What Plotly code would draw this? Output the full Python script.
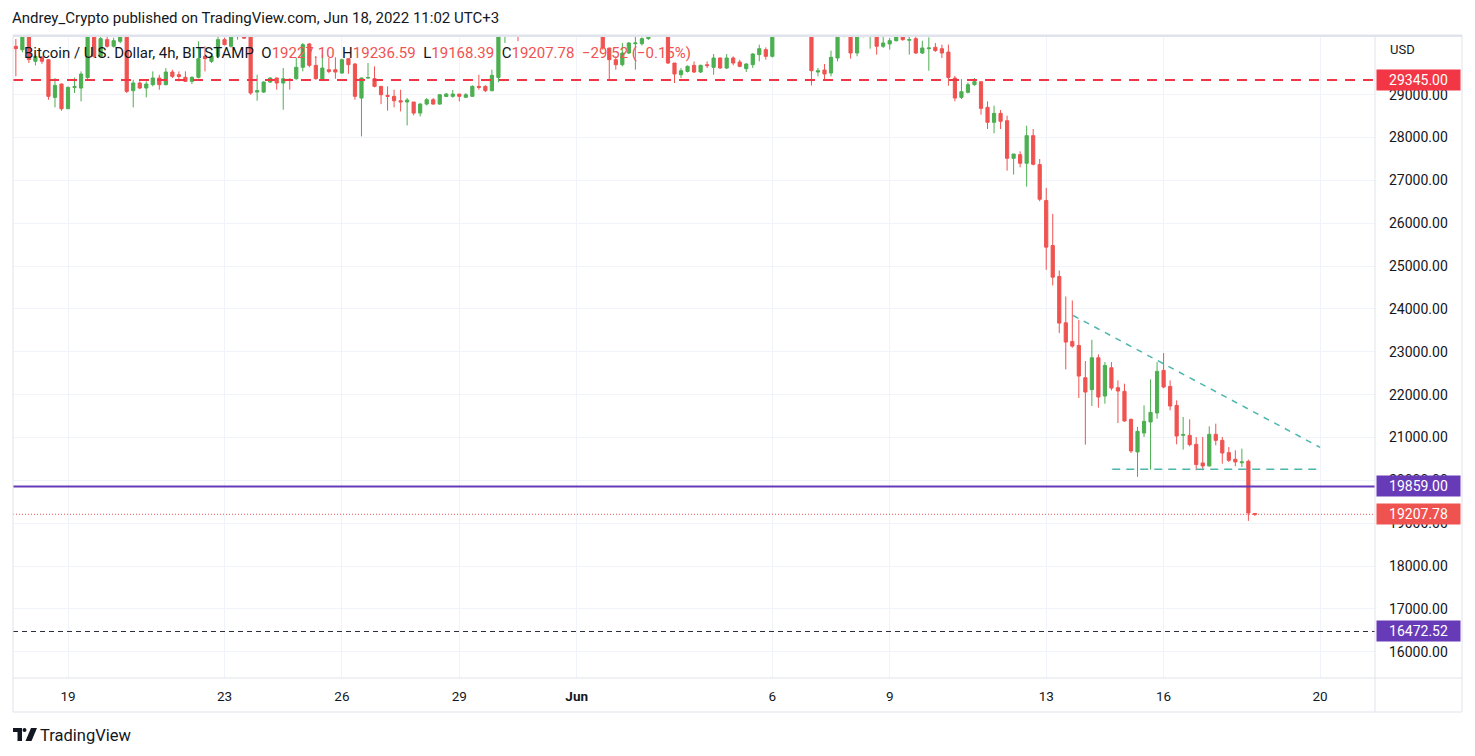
import plotly.graph_objects as go
import pandas as pd

# ---------------- DATA (BTC/USD 4h, Bitstamp) ----------------
start_time = "2022-05-17 16:00"
opens = [
    30130, 30050, 30550, 29780, 29880, 29818, 28938, 29250,
    28673, 29170, 29156, 29400, 30450, 29896, 30286, 30130, 30246, 30600,
    29094, 29273, 29156, 29234, 29390, 29234, 29530, 29467, 29406, 29312,
    29406, 29896, 29779, 29896, 30286, 30130, 30420, 30500, 30380, 29062,
    29062, 29296, 29390, 29273, 29350, 29374, 29640, 30185, 29686, 29350,
    29584, 29584, 29506, 29842, 29717, 28922, 29390, 29374, 29195, 28985,
    28962, 28860, 28830, 28830, 28572, 28782, 28884, 28782, 28960, 28962,
    29016, 28940, 28962, 29195, 29195, 29094, 29400, 30360, 30420, 30850,
    30650, 31300, 31600, 31750, 31450, 31600, 31800, 31700, 31800, 31600,
    31500, 31200, 30800, 30091, 29818, 29701, 29974, 30190, 30190, 30309,
    30600, 30700, 30500, 29740, 29467, 29545, 29686, 29530, 29700, 29639,
    29857, 29623, 29857, 29763, 29608, 29701, 29935, 30052, 29896, 30500,
    30800, 31200, 31400, 31500, 31200, 29530, 29577, 29506, 29857, 30600,
    30700, 29974, 30600, 30380, 30500, 30130, 30185, 30262, 30550, 30270,
    30309, 29974, 30075, 30106, 30075, 29996, 29389, 28938, 29055, 29234,
    29304, 28705, 28356, 28565, 28394, 27516, 27602, 27400, 28045, 27369,
    26530, 25480, 24758, 23677, 23242, 23149, 22395, 22116, 22861, 21968,
    22628, 22162, 22077, 21424, 20663, 21105, 21362, 21572, 22566, 22193,
    21750, 21050, 21050, 20841, 20406, 20336, 21074, 20934, 20647, 20492,
    20410, 20445, 19227.10,
]
highs = [
    30300, 30700, 30650, 29935, 29895, 29830, 29390, 29260,
    29195, 29400, 29545, 30600, 30600, 30420, 30420, 30330, 30700, 30700,
    29350, 29312, 29312, 29545, 29467, 29623, 29584, 29545, 29545, 29430,
    30246, 30130, 29935, 30400, 30330, 30700, 30600, 30650, 30450, 29467,
    29312, 29406, 29400, 29623, 29390, 29857, 30208, 30208, 29896, 29935,
    29857, 29873, 29842, 29842, 29740, 29400, 29740, 29662, 29195, 29195,
    29117, 29117, 28922, 28830, 28806, 28922, 28922, 29016, 29040, 29110,
    29016, 29040, 29220, 29467, 29220, 29584, 30500, 30600, 30950, 30900,
    31400, 31700, 31900, 31800, 31700, 32000, 32200, 31900, 31950, 31800,
    31650, 31300, 30900, 30091, 29896, 30208, 30230, 30363, 30340, 30700,
    30800, 30750, 30600, 29740, 29623, 29686, 29779, 29700, 29779, 29950,
    29870, 29950, 29896, 29818, 29740, 29974, 30169, 30106, 30600, 30900,
    31300, 31600, 31700, 31550, 31300, 29623, 29717, 30030, 30700, 30900,
    30800, 30700, 30700, 30700, 30600, 30400, 30324, 30650, 30600, 30390,
    30450, 30260, 30340, 30208, 30169, 30169, 29443, 29366, 29288, 29389,
    29304, 28845, 28744, 28643, 28511, 27617, 27680, 28278, 28200, 27500,
    26825, 26219, 24898, 24291, 24198, 23747, 22784, 23281, 22939, 22760,
    22760, 22333, 22256, 21440, 21245, 21750, 22356, 22760, 22970, 22333,
    21867, 21478, 21424, 21012, 21012, 21261, 21323, 21012, 20779, 20702,
    20740, 20484, 19236.59,
]
lows = [
    29430, 29990, 29740, 29685, 29720, 28883, 28705, 28627,
    28670, 29040, 28844, 29350, 29857, 29870, 30100, 30100, 30200, 29040,
    28705, 29130, 28938, 29195, 29117, 29220, 29390, 29312, 29296, 29250,
    29380, 29545, 29740, 29870, 30150, 30100, 30286, 30300, 29000, 28860,
    29040, 29273, 29117, 28650, 29117, 29350, 29545, 29640, 29350, 29350,
    29500, 29374, 29490, 29490, 28883, 28027, 29370, 29172, 28780, 28627,
    28705, 28611, 28283, 28518, 28494, 28750, 28767, 28767, 28950, 28930,
    28844, 28922, 28960, 29117, 29062, 29080, 29290, 30208, 30400, 30250,
    30600, 31200, 31400, 31300, 31300, 31500, 31600, 31500, 31500, 31300,
    31100, 30700, 30050, 29350, 29584, 29662, 29950, 29584, 30150, 30280,
    30380, 30380, 29717, 29273, 29390, 29520, 29506, 29506, 29623, 29467,
    29608, 29600, 29686, 29640, 29530, 29623, 29779, 29818, 29870, 30450,
    30700, 31100, 31250, 31100, 29218, 29430, 29350, 29428, 29779, 30340,
    29842, 29896, 30340, 30075, 29935, 30091, 30052, 30240, 30260, 29935,
    29950, 29950, 29560, 30000, 29857, 29210, 28845, 28900, 29032, 29210,
    28534, 28200, 28099, 28200, 27229, 27136, 27306, 26856, 27350, 26514,
    24913, 24548, 23437, 22590, 23095, 21921, 20833, 21735, 21696, 21789,
    22100, 21339, 21370, 20639, 20080, 21012, 20251, 21440, 22150, 21634,
    20841, 20717, 20795, 20235, 20235, 20328, 20818, 20390, 20429, 20328,
    20313, 19054, 19168.39,
]
closes = [
    30075, 30550, 29820, 29895, 29780, 28962, 29218, 28673,
    29172, 29190, 29483, 30363, 29896, 30309, 30130, 30262, 30600, 29078,
    29273, 29156, 29250, 29390, 29234, 29530, 29428, 29428, 29312, 29406,
    29842, 29842, 29896, 30286, 30169, 30550, 30380, 30320, 29040, 29094,
    29296, 29390, 29273, 29374, 29340, 29640, 30169, 29686, 29374, 29623,
    29545, 29530, 29818, 29701, 28962, 29390, 29400, 29195, 29000, 28962,
    28860, 28830, 28876, 28572, 28782, 28884, 28782, 29000, 29016, 29016,
    28962, 29000, 29195, 29172, 29094, 29452, 30363, 30420, 30850, 30650,
    31300, 31600, 31750, 31450, 31600, 31800, 31700, 31800, 31600, 31500,
    31200, 30800, 30091, 29818, 29701, 29974, 30208, 30208, 30309, 30600,
    30700, 30500, 29740, 29483, 29561, 29662, 29530, 29686, 29680, 29857,
    29623, 29857, 29740, 29662, 29717, 29950, 30075, 29896, 30500, 30800,
    31200, 31400, 31500, 31200, 29561, 29560, 29483, 29873, 30600, 30700,
    29974, 30600, 30380, 30500, 30130, 30208, 30262, 30550, 30285, 30290,
    29974, 30091, 30091, 30030, 29974, 29404, 28923, 29070, 29234, 29304,
    28682, 28356, 28565, 28379, 27516, 27617, 27400, 28045, 27377, 26561,
    25442, 24742, 23670, 23227, 23133, 22434, 22061, 22861, 21945, 22683,
    22154, 22085, 21385, 20686, 21144, 21377, 21587, 22543, 22178, 21735,
    21035, 21070, 20833, 20367, 20336, 21074, 20934, 20639, 20468, 20430,
    20430, 19237.30, 19207.78,
]

# horizontal levels drawn on the chart
resistance_level = 29345.00
support_level = 19859.00
target_level = 16472.52
last_price = 19207.78

# drawn trend line (descending triangle)
trend_times = ["2022-06-13 16:30", "2022-06-20 00:00"]
trend_prices = [23848, 20770]
base_times = ["2022-06-14 16:30", "2022-06-19 22:20"]
base_prices = [20259, 20259]

# axis ticks
x_tick_dates = ["2022-05-19", "2022-05-23", "2022-05-26", "2022-05-29", "2022-06-01",
                "2022-06-06", "2022-06-09", "2022-06-13", "2022-06-16", "2022-06-20"]
x_tick_text = ["19", "23", "26", "29", "<b>Jun</b>", "6", "9", "13", "16", "20"]
y_tick_vals = list(range(16000, 30000, 1000))
y_tick_text = [f"{v:.2f}" for v in y_tick_vals]

legend_symbol = "Bitcoin / U.S. Dollar, 4h, BITSTAMP"
legend_ohlc = [("O", "19227.10"), ("H", "19236.59"), ("L", "19168.39"), ("C", "19207.78")]
legend_change = "\u221229.52 (\u22120.15%)"
title_text = "Andrey_Crypto published on TradingView.com, Jun 18, 2022 11:02 UTC+3"

# ---------------- STYLE ----------------
UP = "#4CAF50"
DOWN = "#EF5350"
GRID = "#F0F3FA"
TXT = "#131722"
FONT = "Roboto, 'Open Sans', sans-serif"
NARROW = "'Liberation Sans Narrow', Roboto, sans-serif"
OFF = 8                      # page body margin of the html page
W, H = 1475 - OFF, 756 - OFF
ML, MR, MT, MB = 13 - OFF, 100, 35 - OFF, 78
PW = W - ML - MR
PH = H - MT - MB


def px(xp):
    # page pixel x -> paper coordinate
    return (xp - OFF - ML) / PW


def py(yp):
    # page pixel y -> paper coordinate
    return (H - MB - (yp - OFF)) / PH


times = pd.date_range(start_time, periods=len(opens), freq="4h")

fig = go.Figure()
fig.add_trace(go.Candlestick(
    x=times, open=opens, high=highs, low=lows, close=closes,
    increasing=dict(line=dict(color=UP, width=1), fillcolor=UP),
    decreasing=dict(line=dict(color=DOWN, width=1), fillcolor=DOWN),
    whiskerwidth=0, showlegend=False, hoverinfo="skip",
))

# trend lines
fig.add_trace(go.Scatter(x=trend_times, y=trend_prices, mode="lines",
                         line=dict(color="#4DB6AC", width=1.5, dash="6px,6px"),
                         showlegend=False, hoverinfo="skip"))
fig.add_trace(go.Scatter(x=base_times, y=base_prices, mode="lines",
                         line=dict(color="#4DB6AC", width=1.5, dash="8px,6px"),
                         showlegend=False, hoverinfo="skip"))

shapes = []
# horizontal levels
shapes.append(dict(type="line", xref="paper", x0=0, x1=1, yref="y",
                   y0=resistance_level, y1=resistance_level,
                   line=dict(color="#F23645", width=2, dash="10px,8px")))
shapes.append(dict(type="line", xref="paper", x0=0, x1=1, yref="y",
                   y0=support_level, y1=support_level,
                   line=dict(color="#673AB7", width=2)))
shapes.append(dict(type="line", xref="paper", x0=0, x1=1, yref="y",
                   y0=last_price, y1=last_price,
                   line=dict(color=DOWN, width=1, dash="1px,2px")))
shapes.append(dict(type="line", xref="paper", x0=0, x1=1, yref="y",
                   y0=target_level, y1=target_level,
                   line=dict(color="#2A2E39", width=1, dash="5px,4px")))

# frame
BORDER = "#E0E3EB"
shapes.append(dict(type="rect", xref="paper", yref="paper", x0=0, x1=px(1462), y0=py(712), y1=1,
                   line=dict(color=BORDER, width=1), layer="above"))
shapes.append(dict(type="line", xref="paper", yref="paper", x0=0, x1=px(1462), y0=py(36), y1=py(36),
                   line=dict(color=BORDER, width=2)))
shapes.append(dict(type="line", xref="paper", yref="paper", x0=1, x1=1, y0=py(712), y1=1,
                   line=dict(color=BORDER, width=1)))
shapes.append(dict(type="line", xref="paper", yref="paper", x0=0, x1=px(1462), y0=0, y1=0,
                   line=dict(color=BORDER, width=1)))

# TradingView logo
shapes.append(dict(type="path", xref="paper", yref="paper",
                   path=f"M {px(13)} {py(728)} L {px(22)} {py(728)} L {px(22)} {py(741)} L {px(17.5)} {py(741)} "
                        f"L {px(17.5)} {py(732)} L {px(13)} {py(732)} Z",
                   fillcolor=TXT, line=dict(width=0)))
shapes.append(dict(type="circle", xref="paper", yref="paper",
                   x0=px(22.5), x1=px(26.5), y0=py(732), y1=py(728),
                   fillcolor=TXT, line=dict(width=0)))
shapes.append(dict(type="path", xref="paper", yref="paper",
                   path=f"M {px(31)} {py(728)} L {px(37)} {py(728)} L {px(31.5)} {py(741)} L {px(25.5)} {py(741)} Z",
                   fillcolor=TXT, line=dict(width=0)))

annotations = []
annotations.append(dict(text=title_text, xref="paper", yref="paper", x=px(10), y=py(18),
                        xanchor="left", yanchor="middle", showarrow=False,
                        font=dict(family=NARROW, size=15, color=TXT)))
legend_html = legend_symbol + "&nbsp;&nbsp;" + "&nbsp;&nbsp;".join(
    f"{k}<span style='color:{DOWN}'>{v}</span>" for k, v in legend_ohlc) + \
    f"&nbsp;&nbsp;<span style='color:{DOWN}'>{legend_change}</span>"
annotations.append(dict(text=legend_html, xref="paper", yref="paper", x=px(22), y=py(53),
                        xanchor="left", yanchor="middle", showarrow=False,
                        font=dict(family=FONT, size=15, color=TXT)))
annotations.append(dict(text="USD", xref="paper", yref="paper", x=px(1388), y=py(50),
                        xanchor="left", yanchor="middle", showarrow=False,
                        font=dict(family=FONT, size=13, color=TXT)))
annotations.append(dict(text="TradingView", xref="paper", yref="paper", x=px(38), y=py(735),
                        xanchor="left", yanchor="middle", showarrow=False,
                        font=dict(family=FONT, size=16.5, color=TXT)))

for val, col in [(resistance_level, "#F23645"), (support_level, "#673AB7"),
                 (last_price, DOWN), (target_level, "#673AB7")]:
    annotations.append(dict(text=f"{val:.2f}", xref="paper", yref="y", x=1, y=val,
                            xanchor="left", yanchor="middle", xshift=1, showarrow=False,
                            bgcolor=col, width=81, height=18, align="center", borderpad=1,
                            font=dict(family=FONT, size=14, color="white")))

fig.update_layout(
    width=W, height=H,
    margin=dict(l=ML, r=MR, t=MT, b=MB),
    paper_bgcolor="white", plot_bgcolor="white",
    showlegend=False,
    font=dict(family=FONT, color=TXT),
    xaxis=dict(type="date", range=["2022-05-17 14:15", "2022-06-21 09:40"],
               rangeslider=dict(visible=False),
               tickmode="array", tickvals=x_tick_dates, ticktext=x_tick_text,
               showgrid=True, gridcolor=GRID, gridwidth=1, zeroline=False, showline=False,
               ticks="", tickfont=dict(family=FONT, size=13.5, color=TXT), ticklabelstandoff=8),
    yaxis=dict(side="right", range=[15387, 30394],
               tickmode="array", tickvals=y_tick_vals, ticktext=y_tick_text,
               showgrid=True, gridcolor=GRID, gridwidth=1, zeroline=False, showline=False,
               ticks="", tickfont=dict(family=FONT, size=14, color=TXT), ticklabelstandoff=13),
    shapes=shapes,
    annotations=annotations,
)

fig.write_html("out.html", config={"displayModeBar": False})
